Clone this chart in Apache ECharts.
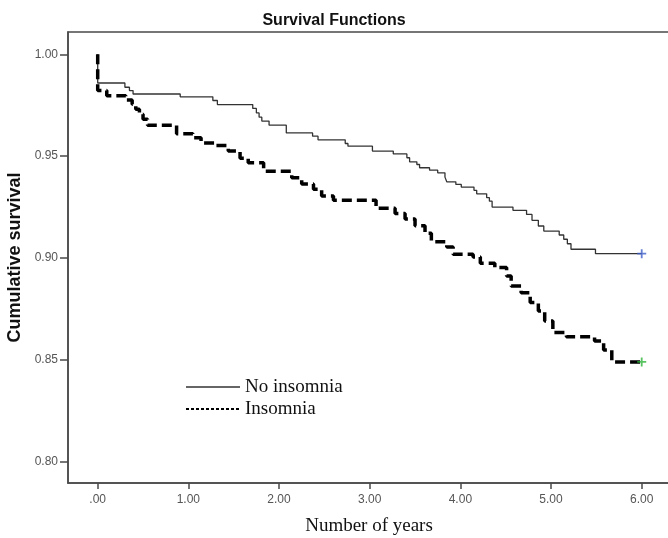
<!DOCTYPE html>
<html>
<head>
<meta charset="utf-8">
<script src="https://cdn.jsdelivr.net/npm/echarts@6/dist/echarts.min.js"></script>
<style>
  html, body { margin: 0; padding: 0; background: #fff; }
  #chart { width: 668px; height: 538px; }
</style>
</head>
<body>
<div id="chart"></div>
<script>
// Kaplan-Meier steps: [time (years), cumulative survival from that time on]
var noInsomnia = [
  [0, 1.0], [0, 0.9859], [0.30, 0.9838], [0.35, 0.9822], [0.39, 0.9805],
  [0.91, 0.9791], [1.27, 0.9773], [1.32, 0.9753], [1.71, 0.9734], [1.75, 0.9712],
  [1.78, 0.9691], [1.81, 0.9672], [1.89, 0.9652], [2.08, 0.9614], [2.37, 0.9598],
  [2.43, 0.9580], [2.73, 0.9562], [2.76, 0.9549], [3.03, 0.9525], [3.26, 0.9511],
  [3.41, 0.9492], [3.44, 0.9472], [3.52, 0.9459], [3.55, 0.9443], [3.66, 0.9431],
  [3.75, 0.9418], [3.83, 0.9397], [3.85, 0.9374], [3.95, 0.9361], [4.01, 0.9348],
  [4.15, 0.9332], [4.18, 0.9315], [4.29, 0.9296], [4.32, 0.9279], [4.35, 0.9250],
  [4.58, 0.9234], [4.73, 0.9214], [4.79, 0.9185], [4.86, 0.9157], [4.92, 0.9132],
  [5.09, 0.9113], [5.14, 0.9092], [5.18, 0.9070], [5.22, 0.9043], [5.49, 0.9021],
  [6.00, 0.9021]
];
var insomnia = [
  [0, 1.0], [0, 0.9822], [0.10, 0.9797], [0.31, 0.9775], [0.38, 0.9755],
  [0.42, 0.9730], [0.46, 0.9706], [0.50, 0.9681], [0.55, 0.9652], [0.87, 0.9610],
  [1.05, 0.9590], [1.14, 0.9565], [1.29, 0.9552], [1.44, 0.9525], [1.57, 0.9490],
  [1.66, 0.9467], [1.83, 0.9426], [2.14, 0.9394], [2.25, 0.9363], [2.38, 0.9337],
  [2.47, 0.9304], [2.60, 0.9284], [3.07, 0.9244], [3.28, 0.9218], [3.39, 0.9191],
  [3.50, 0.9158], [3.61, 0.9121], [3.68, 0.9080], [3.85, 0.9054], [3.92, 0.9018],
  [4.14, 0.9005], [4.22, 0.8974], [4.38, 0.8953], [4.51, 0.8912], [4.56, 0.8863],
  [4.67, 0.8830], [4.77, 0.8781], [4.86, 0.8740], [4.93, 0.8691], [5.02, 0.8634],
  [5.17, 0.8613], [5.48, 0.8593], [5.58, 0.8548], [5.67, 0.8490], [6.00, 0.8490]
];
// censored marks at the end of follow-up
var censoredNo = [[6.00, 0.9021]];
var censoredIns = [[6.00, 0.8490]];

var xTicks = [0, 1, 2, 3, 4, 5, 6];
var yTicks = [0.80, 0.85, 0.90, 0.95, 1.00];

var chart = echarts.init(document.getElementById("chart"));

var plus = "path://M4,0H6V4H10V6H6V10H4V6H0V4H4Z";
var noSymbol = { color: "rgba(0,0,0,0)", borderColor: "rgba(0,0,0,0)", borderWidth: 0, opacity: 0 };

var option = {
  animation: false,
  backgroundColor: "#fff",
  title: {
    text: "Survival Functions",
    left: "center",
    top: 8,
    textStyle: { fontFamily: "Liberation Sans", fontSize: 16, fontWeight: "bold", color: "#111" }
  },
  grid: {
    left: 68, top: 32, right: -2, bottom: 55,
    containLabel: false,
    outerBoundsMode: "none",
    show: true, borderColor: "#4a4a4a", borderWidth: 1.5, backgroundColor: "#fff"
  },
  legend: {
    orient: "vertical",
    left: 185, top: 376,
    padding: 0,
    itemWidth: 54, itemHeight: 14, itemGap: 0,
    textStyle: { fontFamily: "Liberation Serif", fontSize: 19, color: "#111", lineHeight: 22 },
    data: [
      { name: "No insomnia", itemStyle: noSymbol, lineStyle: { width: 1.3, color: "#333", type: "solid" } },
      { name: "Insomnia", itemStyle: noSymbol, lineStyle: { width: 2, color: "#000", type: [3, 2] } }
    ]
  },
  xAxis: {
    type: "value",
    min: -0.3276, max: 6.312,
    name: "Number of years",
    nameLocation: "middle",
    nameGap: 34,
    nameTextStyle: { fontFamily: "Liberation Serif", fontSize: 19, color: "#111" },
    axisLine: { show: true, onZero: false, lineStyle: { color: "#4a4a4a", width: 1.5 } },
    axisTick: { show: true, length: 6, customValues: xTicks, lineStyle: { color: "#4a4a4a", width: 1.5 } },
    axisLabel: {
      customValues: xTicks, margin: 11,
      fontFamily: "Liberation Sans", fontSize: 12, color: "#555",
      formatter: function (v) { return v === 0 ? ".00" : v.toFixed(2); }
    },
    splitLine: { show: false }
  },
  yAxis: {
    type: "value",
    min: 0.78956, max: 1.01093,
    name: "Cumulative survival",
    nameLocation: "middle",
    nameRotate: 90,
    nameGap: 41,
    nameTextStyle: { fontFamily: "Liberation Sans", fontSize: 18, fontWeight: "bold", color: "#111" },
    axisLine: { show: true, onZero: false, lineStyle: { color: "#4a4a4a", width: 1.5 } },
    axisTick: { show: true, length: 8, customValues: yTicks, lineStyle: { color: "#4a4a4a", width: 1.5 } },
    axisLabel: {
      customValues: yTicks, margin: 10,
      fontFamily: "Liberation Sans", fontSize: 12, color: "#555",
      formatter: function (v) { return v.toFixed(2); }
    },
    splitLine: { show: false }
  },
  series: [
    {
      name: "No insomnia",
      type: "line",
      step: "end",
      symbol: "none",
      data: noInsomnia,
      lineStyle: { color: "#333", width: 1.3 },
      itemStyle: { color: "#333" },
      z: 3
    },
    {
      name: "Insomnia",
      type: "line",
      step: "end",
      symbol: "none",
      data: insomnia,
      lineStyle: { color: "#000", width: 3.5, type: [10, 5] },
      itemStyle: { color: "#000" },
      z: 4
    },
    {
      name: "censored-no",
      type: "scatter",
      symbol: plus,
      symbolSize: 9,
      data: censoredNo,
      itemStyle: { color: "#3d5fc8" },
      z: 5
    },
    {
      name: "censored-ins",
      type: "scatter",
      symbol: plus,
      symbolSize: 9,
      data: censoredIns,
      itemStyle: { color: "#2fb43a" },
      z: 5
    }
  ]
};

chart.setOption(option);

window.addEventListener("resize", function () {
  chart.resize();
});
</script>
</body>
</html>
